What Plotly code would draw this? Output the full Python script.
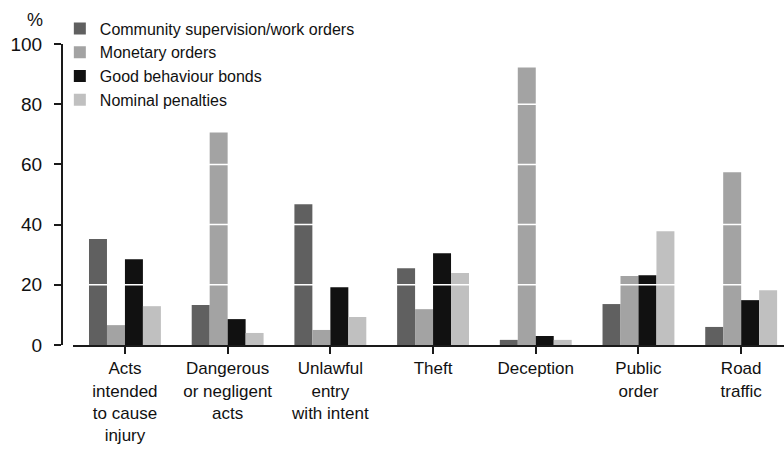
import plotly.graph_objects as go

categories = [
    "Acts<br>intended<br>to cause<br>injury",
    "Dangerous<br>or negligent<br>acts",
    "Unlawful<br>entry<br>with intent",
    "Theft",
    "Deception",
    "Public<br>order",
    "Road<br>traffic",
]

community = [35.2, 13.3, 46.8, 25.5, 1.7, 13.6, 6.0]
monetary = [6.6, 70.6, 5.0, 11.9, 92.2, 22.9, 57.4]
good_behaviour = [28.5, 8.6, 19.2, 30.5, 3.0, 23.2, 14.9]
nominal = [12.9, 4.0, 9.3, 23.9, 1.7, 37.8, 18.2]

series = [
    ("Community supervision/work orders", community, "#606060"),
    ("Monetary orders", monetary, "#a3a3a3"),
    ("Good behaviour bonds", good_behaviour, "#111111"),
    ("Nominal penalties", nominal, "#c0c0c0"),
]

y_ticks = [0, 20, 40, 60, 80, 100]

fig = go.Figure()
for name, vals, color in series:
    fig.add_trace(go.Bar(
        x=categories, y=vals, name=name,
        marker=dict(color=color, line=dict(width=0)),
    ))

# white gridlines drawn over the bars
for v in y_ticks[1:-1]:
    fig.add_hline(y=v, line_color="white", line_width=1.5, layer="above")

fig.add_annotation(
    text="%", xref="paper", yref="paper", x=-0.037, y=1.08,
    xanchor="center", yanchor="middle",
    showarrow=False, font=dict(size=18, color="#111"),
)

fig.update_layout(
    width=784, height=450,
    barmode="group", bargap=0.30, bargroupgap=0,
    margin=dict(l=62, r=0, t=44, b=105, autoexpand=False),
    paper_bgcolor="white", plot_bgcolor="white",
    font=dict(family="Liberation Sans, Arial, sans-serif", size=17, color="#111"),
    legend=dict(
        x=-0.003, y=1.108, xanchor="left", yanchor="top",
        bgcolor="rgba(0,0,0,0)", font=dict(size=16),
        traceorder="normal", tracegroupgap=0,
    ),
    xaxis=dict(
        domain=[0.0152, 1], range=[-0.506, 6.417],
        showline=True, linecolor="#1a1a1a", linewidth=2,
        ticks="outside", ticklen=7, tickwidth=2, tickcolor="#1a1a1a",
        showgrid=False, zeroline=False, tickangle=0,
        tickfont=dict(size=17),
    ),
    yaxis=dict(
        anchor="free", position=0, range=[0, 100],
        tickvals=y_ticks,
        showline=True, linecolor="#1a1a1a", linewidth=2,
        ticks="outside", ticklen=7, tickwidth=2, tickcolor="#1a1a1a",
        ticklabelstandoff=8,
        showgrid=False, zeroline=False,
        tickfont=dict(size=19),
    ),
)

fig.write_html(
    "out.html",
    config={"displayModeBar": False},
    post_script="document.body.style.margin='0';",
)
